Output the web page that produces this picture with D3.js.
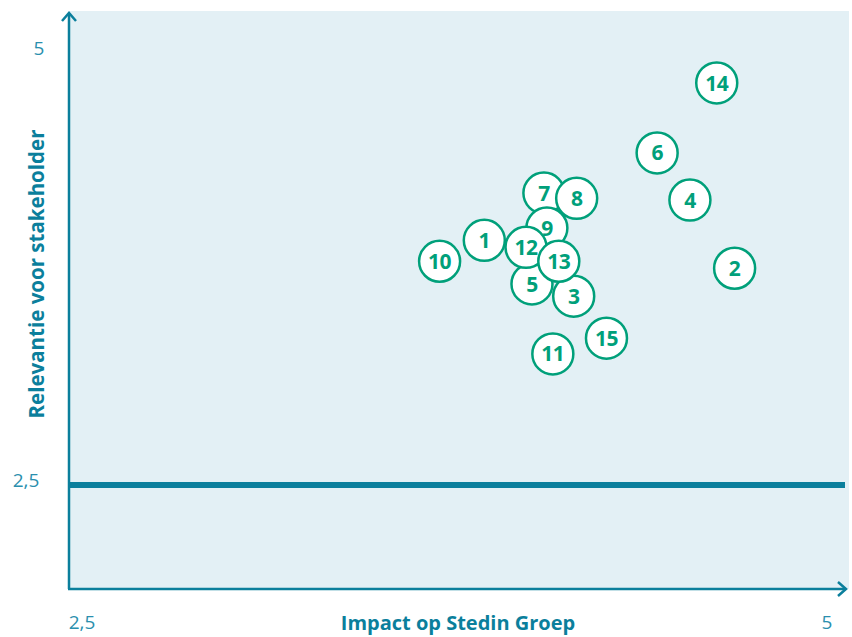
<!DOCTYPE html>
<html>
<head>
<meta charset="utf-8">
<script src="https://cdn.jsdelivr.net/npm/d3@7"></script>
<style>
  body { margin: 0; background: #fff; }
  text { font-family: "Open Sans", sans-serif; }
</style>
</head>
<body>
<div id="chart"></div>
<script>
// data: topic numbers and their scores (impact, relevance)
const labels = [1, 2, 3, 4, 5, 6, 7, 8, 9, 10, 11, 12, 13, 14, 15];
const impact = [3.85, 4.69, 4.15, 4.54, 4.01, 4.43, 4.05, 4.16, 4.06, 3.70, 4.08, 3.99, 4.10, 4.63, 4.26];
const relevance = [3.90, 3.74, 3.58, 4.13, 3.65, 4.40, 4.17, 4.14, 3.97, 3.78, 3.25, 3.86, 3.78, 4.80, 3.34];
const xTicks = ["2,5", "5"];
const yTicks = ["2,5", "5"];
const threshold = 2.5;

const width = 852, height = 637;
const teal = "#0b7f9c", tickCol = "#2a8fae", green = "#00a07a", bg = "#e3f0f5";

let svg = d3.select("#chart")
    .append("svg")
    .attr("width", width)
    .attr("height", height);

let x = d3.scaleLinear().domain([2.5, 5]).range([82, 827]);
let y = d3.scaleLinear().domain([2.5, 5]).range([485, 48]);

const pLeft = 69, pTop = 11, pRight = 849, pBottom = 589;

// plot background
svg.append("rect")
    .attr("x", pLeft)
    .attr("y", pTop)
    .attr("width", pRight - pLeft)
    .attr("height", pBottom - pTop)
    .attr("fill", bg);

// threshold line
svg.append("line")
    .attr("x1", pLeft)
    .attr("x2", pRight - 4)
    .attr("y1", y(threshold))
    .attr("y2", y(threshold))
    .attr("stroke", teal)
    .attr("stroke-width", 6);

// axes with arrows
svg.append("line")
    .attr("x1", pLeft).attr("y1", pBottom)
    .attr("x2", pLeft).attr("y2", 13)
    .attr("stroke", teal).attr("stroke-width", 2.5);
svg.append("line")
    .attr("x1", pLeft - 1).attr("y1", pBottom)
    .attr("x2", 846).attr("y2", pBottom)
    .attr("stroke", teal).attr("stroke-width", 2.5);
svg.append("path")
    .attr("d", `M${pLeft - 7},${21} L${pLeft},${13} L${pLeft + 7},${21}`)
    .attr("fill", "none").attr("stroke", teal).attr("stroke-width", 2.5);
svg.append("path")
    .attr("d", `M${838},${pBottom - 7} L${846},${pBottom} L${838},${pBottom + 7}`)
    .attr("fill", "none").attr("stroke", teal).attr("stroke-width", 2.5);

// tick labels
svg.selectAll(".xtick").data(xTicks).enter()
    .append("text")
    .attr("x", function(d) { return x(parseFloat(d.replace(",", "."))); })
    .attr("y", 629)
    .style("text-anchor", "middle")
    .style("font-size", 19)
    .attr("fill", tickCol)
    .text(function(d) { return d; });

svg.selectAll(".ytick").data(yTicks).enter()
    .append("text")
    .attr("x", function(d) { return d === "5" ? 39 : 26; })
    .attr("y", function(d) { return d === "5" ? y(5) : y(2.5) - 5; })
    .attr("dy", "0.35em")
    .style("text-anchor", "middle")
    .style("font-size", 19)
    .attr("fill", tickCol)
    .text(function(d) { return d; });

// axis titles
svg.append("text")
    .attr("x", 458)
    .attr("y", 630)
    .style("text-anchor", "middle")
    .style("font-size", 20)
    .style("font-weight", "bold")
    .attr("fill", teal)
    .text("Impact op Stedin Groep");

svg.append("text")
    .attr("transform", `translate(44, 274) rotate(-90)`)
    .style("text-anchor", "middle")
    .style("font-size", 20.5)
    .style("font-weight", "bold")
    .attr("fill", teal)
    .text("Relevantie voor stakeholder");

// points
let pts = labels.map(function(d, i) { return {label: d, x: impact[i], y: relevance[i]}; });

let g = svg.selectAll(".pt").data(pts).enter()
    .append("g")
    .attr("transform", function(d) { return `translate(${x(d.x)}, ${y(d.y)})`; });

g.append("circle")
    .attr("r", 20.5)
    .attr("fill", "#fff")
    .attr("stroke", green)
    .attr("stroke-width", 2.5);

g.append("text")
    .attr("dy", "0.36em")
    .style("text-anchor", "middle")
    .style("font-size", 21)
    .style("font-weight", "bold")
    .style("letter-spacing", "-0.5px")
    .attr("fill", green)
    .text(function(d) { return d.label; });
</script>
</body>
</html>
